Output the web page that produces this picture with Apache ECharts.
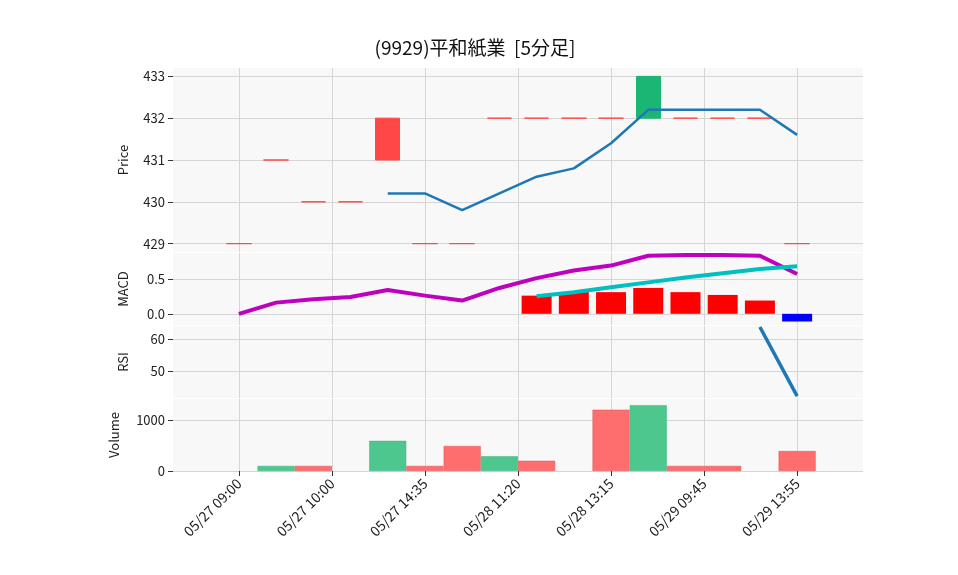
<!DOCTYPE html>
<html><head><meta charset="utf-8">
<script src="https://cdn.jsdelivr.net/npm/echarts@6/dist/echarts.min.js"></script>
<style>body{margin:0}#c{width:958px;height:575px}</style></head>
<body><div id="c"></div>
<script>
const tickPos = [0, 2.5, 5, 7.5, 10, 12.5, 15];
const tickLabels = ['05/27 09:00','05/27 10:00','05/27 14:35','05/28 11:20','05/28 13:15','05/29 09:45','05/29 13:55'];
const priceTicks = [429,430,431,432,433];
const macdTicks = [0.0,0.5];
const rsiTicks = [50,60];
const volTicks = [0,1000];
const openV  = [429,431,430,430,431,429,429,432,432,432,432,432,432,432,432,429];
const closeV = [429,431,430,430,432,429,429,432,432,432,432,433,432,432,432,429];
const candleUp = [1,1,1,1,1,1,1,1,1,1,1,0,1,1,1,1];
const maV = [null,null,null,null,430.2,430.2,429.8,430.2,430.6,430.8,431.4,432.2,432.2,432.2,432.2,431.6];
const macdV = [0.0,0.16,0.21,0.24,0.34,0.26,0.19,0.37,0.51,0.62,0.69,0.83,0.84,0.84,0.83,0.57];
const signalV = [null,null,null,null,null,null,null,null,0.25,0.31,0.38,0.45,0.52,0.58,0.64,0.68];
const histV = [null,null,null,null,null,null,null,null,0.26,0.31,0.31,0.37,0.31,0.27,0.19,-0.11];
const rsiV = [null,null,null,null,null,null,null,null,null,null,null,null,null,null,63.7,42.2];
const volV = [null,100,100,null,590,100,490,290,200,null,1200,1290,100,100,null,390];
const volUp = [1,0,1,1,0,1,1,0,1,1,1,0,1,1,1,1];

const idx = openV.map((_, i) => i);
const FONT='Noto Sans CJK JP';
const RED='#ff4747', GREEN='#1bb574', VRED='#ff6e6e', VGREEN='#4ec78f';
const grids = [
  {left:173,width:690,top:68,height:184},
  {left:173,width:690,top:253,height:72},
  {left:173,width:690,top:326,height:72},
  {left:173,width:690,top:399,height:72}
];
const xAxes = grids.map((g,i)=>({
  type:'value', gridIndex:i, min:-1.77, max:16.77,
  axisLine:{show:false,onZero:false},
  axisTick:{show:i===3, customValues:tickPos, length:5, lineStyle:{color:'#333'}},
  axisLabel:{show:i===3, customValues:tickPos, rotate:45, fontSize:14, color:'#222', fontFamily:FONT,
    formatter:v=>{const k=tickPos.indexOf(v);return k>=0?tickLabels[k]:'';}, margin:10},
  splitLine:{show:false}
}));
function yAx(i,min,max,ticks,name,gap,fmt){
  return {type:'value',gridIndex:i,min,max,name,nameGap:gap,nameLocation:'middle',position:'left',
    nameTextStyle:{fontSize:13,color:'#222',fontFamily:FONT},
    axisLine:{show:false,onZero:false},
    axisTick:{show:true,length:5,customValues:ticks,lineStyle:{color:'#333'}},
    axisLabel:{customValues:ticks,fontSize:13,color:'#222',fontFamily:FONT,formatter:fmt||(v=>String(v))},
    splitLine:{show:false}};
}
const yAxes = [
  yAx(0,428.8,433.2,priceTicks,'Price',43),
  yAx(1,-0.16,0.87,macdTicks,'MACD',43,v=>v.toFixed(1)),
  yAx(2,41.6,64,rsiTicks,'RSI',43),
  yAx(3,0,1410,volTicks,'Volume',52)
];
const tickSets=[priceTicks,macdTicks,rsiTicks,volTicks];
const gridSeries = [0,1,2,3].map(i=>({type:'line',xAxisIndex:i,yAxisIndex:i,data:[],silent:true,z:0,
  markLine:{symbol:'none',silent:true,z:0,label:{show:false},lineStyle:{color:'#d5d5d5',type:'solid',width:1},
    data:[...tickPos.map(v=>({xAxis:v})),...tickSets[i].map(v=>({yAxis:v}))]}}));
const candleData = idx.map(i=>{
  const c = candleUp[i]?RED:GREEN;
  return {value:[i,openV[i],closeV[i],Math.min(openV[i],closeV[i]),Math.max(openV[i],closeV[i])],
    itemStyle:{color:c,color0:c,borderColor:c,borderColor0:c,borderWidth:1}};
});
const opt = {
  animation:false,
  title:{text:'(9929)平和紙業  [5分足]',left:470,top:33,textAlign:'center',textStyle:{fontSize:19,fontWeight:'normal',color:'#111',fontFamily:FONT}},
  grid:grids.map(g=>({...g,show:true,backgroundColor:'#f8f8f8',borderWidth:0})),
  xAxis:xAxes, yAxis:yAxes,
  series:[
    ...gridSeries,
    {type:'candlestick',xAxisIndex:0,yAxisIndex:0,barWidth:25,z:5,data:candleData},
    {type:'line',xAxisIndex:0,yAxisIndex:0,z:6,data:idx.map(i=>[i,maV[i]]),showSymbol:false,lineStyle:{color:'#1f77b4',width:2.5}},
    {type:'bar',xAxisIndex:1,yAxisIndex:1,barWidth:30,z:5,data:idx.map(i=>({value:[i,histV[i]],itemStyle:{color:histV[i]<0?'#0000ff':'#ff0000'}}))},
    {type:'line',xAxisIndex:1,yAxisIndex:1,z:6,data:idx.map(i=>[i,macdV[i]]),showSymbol:false,lineStyle:{color:'#bf00bf',width:4}},
    {type:'line',xAxisIndex:1,yAxisIndex:1,z:6,data:idx.map(i=>[i,signalV[i]]),showSymbol:false,lineStyle:{color:'#00bfbf',width:4}},
    {type:'line',xAxisIndex:2,yAxisIndex:2,z:6,data:idx.map(i=>[i,rsiV[i]]),showSymbol:false,lineStyle:{color:'#1f77b4',width:3.5}},
    {type:'bar',xAxisIndex:3,yAxisIndex:3,barWidth:37,z:5,data:idx.map(i=>({value:[i,volV[i]],itemStyle:{color:volUp[i]?VRED:VGREEN,borderColor:volUp[i]?'#e05050':'#3db07c',borderWidth:0.5}}))}
  ]
};
echarts.init(document.getElementById('c')).setOption(opt);
</script></body></html>
